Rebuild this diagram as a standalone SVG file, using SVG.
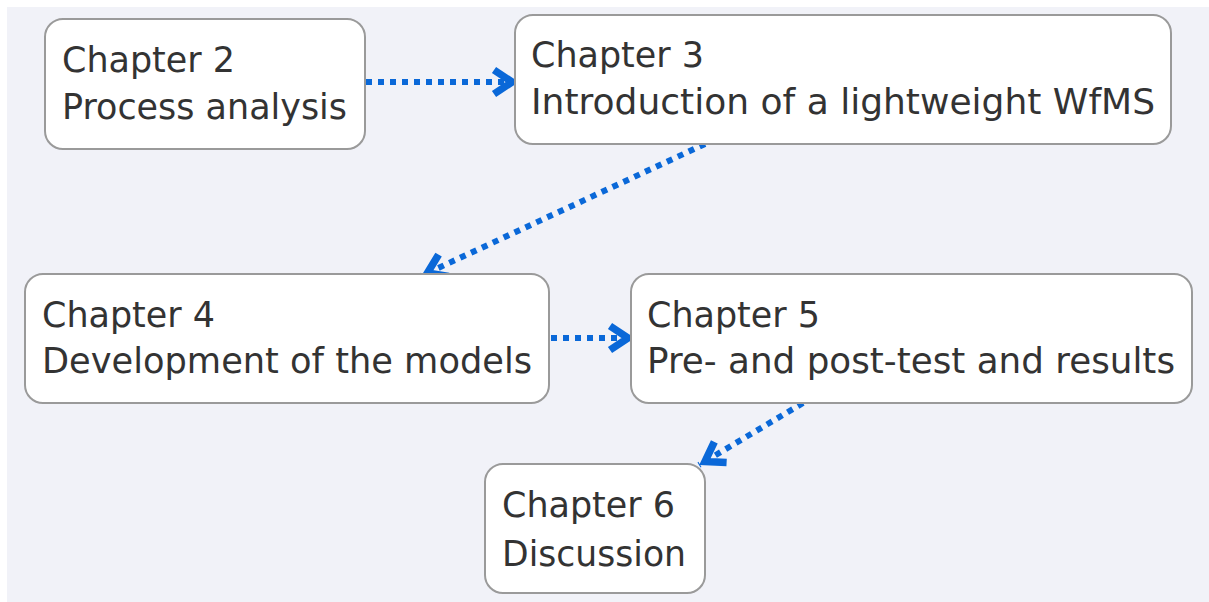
<svg xmlns="http://www.w3.org/2000/svg" width="1209" height="602" viewBox="0 0 1209 602">
<style>
.box{fill:#ffffff;stroke:#9a9a9a;stroke-width:2}
.t{font-family:"DejaVu Sans",Verdana,sans-serif;font-size:36px;fill:#333333}
.c{fill:none;stroke:#0a68d8;stroke-width:6;stroke-dasharray:6 6}
</style>
<defs>
<marker id="arr" markerUnits="userSpaceOnUse" markerWidth="40" markerHeight="40" viewBox="-32 -20 40 40" refX="0" refY="0" orient="auto" overflow="visible">
<path d="M-25,-12 L-7,0 L-25,12" fill="none" stroke="#0a68d8" stroke-width="7.5" stroke-miterlimit="10"/>
</marker>
</defs>
<rect x="0" y="0" width="1209" height="602" fill="#ffffff"/>
<rect x="7" y="7" width="1202" height="595" fill="#f1f2f8"/>
<g id="connectors">
<path class="c" d="M366,82 L519,82" marker-end="url(#arr)"/>
<path class="c" d="M705,144 L421,276" marker-end="url(#arr)"/>
<path class="c" d="M551,338 L635,338" marker-end="url(#arr)"/>
<path class="c" d="M803,403 L699,465" marker-end="url(#arr)"/>
</g>
<g id="node2">
<rect class="box" x="45" y="19" width="320" height="130" rx="18"/>
<text class="t" x="62" y="72" textLength="173" lengthAdjust="spacingAndGlyphs">Chapter 2</text>
<text class="t" x="62" y="119" textLength="285" lengthAdjust="spacingAndGlyphs">Process analysis</text>
</g>
<g id="node3">
<rect class="box" x="515" y="15" width="656" height="129" rx="18"/>
<text class="t" x="531" y="67" textLength="173" lengthAdjust="spacingAndGlyphs">Chapter 3</text>
<text class="t" x="531" y="114" textLength="624" lengthAdjust="spacingAndGlyphs">Introduction of a lightweight WfMS</text>
</g>
<g id="node4">
<rect class="box" x="25" y="274" width="524" height="129" rx="18"/>
<text class="t" x="42" y="327" textLength="173" lengthAdjust="spacingAndGlyphs">Chapter 4</text>
<text class="t" x="42" y="373" textLength="490" lengthAdjust="spacingAndGlyphs">Development of the models</text>
</g>
<g id="node5">
<rect class="box" x="631" y="274" width="561" height="129" rx="18"/>
<text class="t" x="647" y="327" textLength="173" lengthAdjust="spacingAndGlyphs">Chapter 5</text>
<text class="t" x="647" y="373" textLength="528" lengthAdjust="spacingAndGlyphs">Pre- and post-test and results</text>
</g>
<g id="node6">
<rect class="box" x="485" y="464" width="220" height="129" rx="18"/>
<text class="t" x="502" y="517" textLength="173" lengthAdjust="spacingAndGlyphs">Chapter 6</text>
<text class="t" x="502" y="566" textLength="184" lengthAdjust="spacingAndGlyphs">Discussion</text>
</g>
</svg>
